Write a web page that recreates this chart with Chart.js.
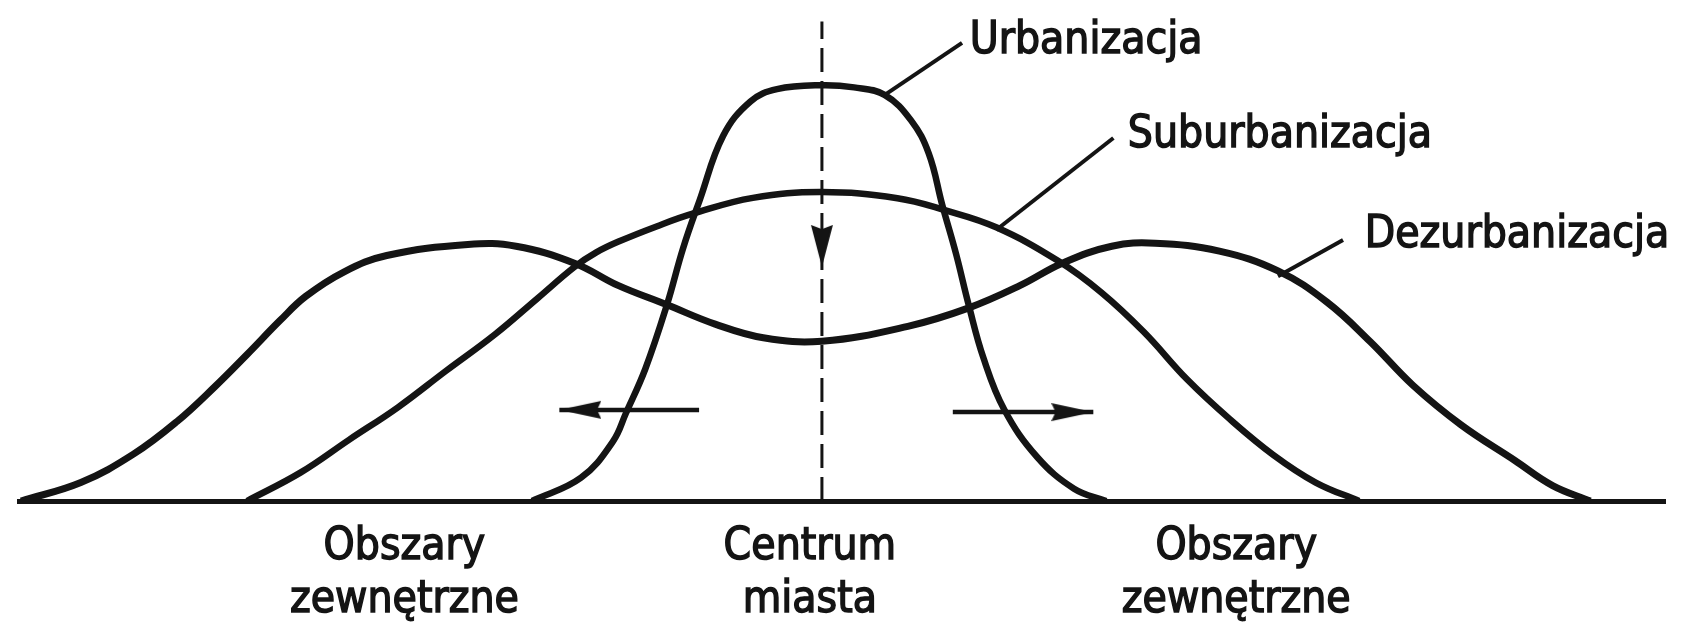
<!DOCTYPE html>
<html lang="pl">
<head>
<meta charset="utf-8">
<title>Urbanizacja, suburbanizacja, dezurbanizacja</title>
<script src="https://cdn.jsdelivr.net/npm/chart.js@4.4.1/dist/chart.umd.min.js"></script>
<style>
    html, body { margin: 0; padding: 0; background: #fff; }
    #wrap { width: 1686px; height: 627px; }
</style>
</head>
<body>
<div id="wrap"><canvas id="chart" width="1686" height="627"></canvas></div>
<script>
// Oś X: odległość od centrum miasta (umowne jednostki), oś Y: natężenie zjawiska
const seriesNames = ['Urbanizacja', 'Suburbanizacja', 'Dezurbanizacja'];

const urbanizacja = [
    [-36.1, 0], [-30.0, 5.3], [-26.0, 13.6], [-24.4, 20.0], [-22.0, 30.0], [-19.3, 44.6],
    [-17.3, 57.4], [-15.2, 68.5], [-12.3, 83.0], [-8.9, 90.8], [-5.6, 93.6], [0, 94.5],
    [4.0, 94.0], [7.8, 92.3], [11.1, 86.5], [13.3, 79.0], [15.0, 67.2], [16.7, 56.2],
    [18.3, 44.4], [20.1, 32.6], [22.7, 20.8], [26.8, 10.0], [31.4, 2.8], [35.4, 0]
];

const suburbanizacja = [
    [-71.6, 0], [-64.9, 6.5], [-58.9, 13.9], [-52.8, 21.3], [-46.8, 29.6], [-40.7, 37.9],
    [-35.4, 46.1], [-30.75, 53.3], [-28.1, 56.5], [-25.4, 58.9], [-20.6, 62.4], [-15.9, 65.4],
    [-8.6, 68.9], [0, 70.2], [9.4, 68.8], [15.3, 66.1], [21.7, 62.2], [29.4, 54.6],
    [34.8, 47.4], [40.1, 38.4], [45.5, 27.6], [50.8, 18.6], [56.2, 10.5], [61.5, 4.2], [66.9, 0]
];

const dezurbanizacja = [
    [-99.75, 0], [-92.3, 4.2], [-85.7, 10.7], [-80.3, 18.1], [-75.6, 26.0], [-71.6, 33.3],
    [-67.5, 41.0], [-64.3, 46.5], [-59.5, 52.1], [-54.2, 55.8], [-44.1, 58.3], [-38.1, 57.9],
    [-30.75, 54.0], [-25.4, 49.0], [-19.3, 44.6], [-13.3, 40.2], [-7.3, 37.1], [0, 36.3],
    [10.7, 39.7], [18.3, 43.9], [24.7, 49.0], [30.0, 54.1], [36.1, 57.9], [41.5, 58.6],
    [49.5, 56.8], [56.8, 52.3], [62.9, 45.2], [68.3, 36.2], [73.6, 26.3], [79.6, 17.3],
    [86.3, 9.2], [91.0, 3.5], [95.7, 0]
];

// Podpisy pod osią i ich położenie na osi X
const regionLabels = [['Obszary', 'zewnętrzne'], ['Centrum', 'miasta'], ['Obszary', 'zewnętrzne']];
const regionTicks = [-52.0, -1.5, 51.6];

// Zakres osi
const xRange = [-100, 105];
const yRange = [0, 110];

// --- układ: odnośniki, strzałki, oś centrum (poza danymi) ---
const callouts = [
    { from: [7.6, 92.0], to: [17.45, 104.1], text: [18.4, 101.8] },
    { from: [21.7, 61.6], to: [36.3, 82.5], text: [38.1, 80.5] },
    { from: [56.8, 51.1], to: [64.9, 59.3], text: [67.6, 57.7] }
];
const centerAxis = { x: 0, top: 109, arrowTip: 53.2 };
const flowArrows = [
    { from: [-15.3, 20.7], to: [-32.7, 20.7], rotation: 180 },
    { from: [16.3, 20.2], to: [33.8, 20.2], rotation: 0 }
];

const INK = '#141414';
const FONT_FAMILY = '"DejaVu Sans Condensed", "DejaVu Sans", sans-serif';
const TEXT_STROKE = 1.4;   // lekkie pogrubienie jak na skanie

const toPoints = arr => arr.map(p => ({ x: p[0], y: p[1] }));

// Grot strzałki skierowany w prawo, ostrze w środku płótna (obrót wokół ostrza)
function makeArrowHead(length, halfWidth) {
    const c = document.createElement('canvas');
    c.width = length * 2;
    c.height = halfWidth * 2 + 2;
    const g = c.getContext('2d');
    const cy = c.height / 2;
    g.fillStyle = INK;
    g.beginPath();
    g.moveTo(length, cy);
    g.lineTo(0, cy - halfWidth);
    g.lineTo(length * 0.1, cy);
    g.lineTo(0, cy + halfWidth);
    g.closePath();
    g.fill();
    return c;
}

const sideHead = makeArrowHead(42, 9);
const downHead = makeArrowHead(42, 11);

function curve(label, data, width) {
    return {
        label: label,
        data: toPoints(data),
        borderColor: INK,
        borderWidth: width,
        pointRadius: 0,
        fill: false,
        tension: 0.4
    };
}

const datasets = [
    curve(seriesNames[0], urbanizacja, 6.5),
    curve(seriesNames[1], suburbanizacja, 6.5),
    curve(seriesNames[2], dezurbanizacja, 7),
    {
        label: 'centrum',
        data: [
            { x: centerAxis.x, y: 0 },
            { x: centerAxis.x, y: centerAxis.arrowTip },
            { x: centerAxis.x, y: centerAxis.top }
        ],
        borderColor: INK,
        borderWidth: 3,
        borderDash: [24, 9],
        pointRadius: [0, 1, 0],
        pointStyle: ['circle', downHead, 'circle'],
        pointRotation: [0, 90, 0]
    }
];

flowArrows.forEach(a => {
    datasets.push({
        label: 'strzałka',
        data: toPoints([a.from, a.to]),
        borderColor: INK,
        borderWidth: 4.5,
        pointRadius: [0, 1],
        pointStyle: ['circle', sideHead],
        pointRotation: [0, a.rotation]
    });
});

callouts.forEach(c => {
    datasets.push({
        label: 'odnośnik',
        data: toPoints([c.from, c.to]),
        borderColor: INK,
        borderWidth: 4,
        pointRadius: 0
    });
});

// Napisy przy odnośnikach
const calloutText = {
    id: 'calloutText',
    afterDatasetsDraw(chart) {
        const { ctx, scales: { x, y } } = chart;
        ctx.save();
        ctx.font = '44px ' + FONT_FAMILY;
        ctx.fillStyle = INK;
        ctx.strokeStyle = INK;
        ctx.lineWidth = TEXT_STROKE;
        ctx.textAlign = 'left';
        ctx.textBaseline = 'alphabetic';
        seriesNames.forEach((name, i) => {
            const t = callouts[i].text;
            const px = x.getPixelForValue(t[0]);
            const py = y.getPixelForValue(t[1]);
            ctx.strokeText(name, px, py);
            ctx.fillText(name, px, py);
        });
        ctx.restore();
    }
};

new Chart(document.getElementById('chart'), {
    type: 'line',
    data: { datasets: datasets },
    plugins: [calloutText],
    options: {
        responsive: false,
        animation: false,
        layout: { padding: { left: 19, right: 21, top: 17, bottom: 0 } },
        plugins: {
            legend: { display: false },
            tooltip: { enabled: false }
        },
        scales: {
            x: {
                type: 'linear',
                min: xRange[0],
                max: xRange[1],
                grid: { display: false, drawTicks: false },
                border: { display: true, color: INK, width: 5 },
                afterBuildTicks: scale => {
                    scale.ticks = regionTicks.map(v => ({ value: v }));
                },
                afterFit: scale => { scale.height = 126; },
                ticks: {
                    autoSkip: false,
                    maxRotation: 0,
                    minRotation: 0,
                    padding: 20,
                    color: INK,
                    textStrokeColor: INK,
                    textStrokeWidth: TEXT_STROKE,
                    font: { family: FONT_FAMILY, size: 44, lineHeight: '53px' },
                    callback: (value, index) => regionLabels[index]
                }
            },
            y: {
                type: 'linear',
                display: false,
                min: yRange[0],
                max: yRange[1]
            }
        }
    }
});
</script>
</body>
</html>
